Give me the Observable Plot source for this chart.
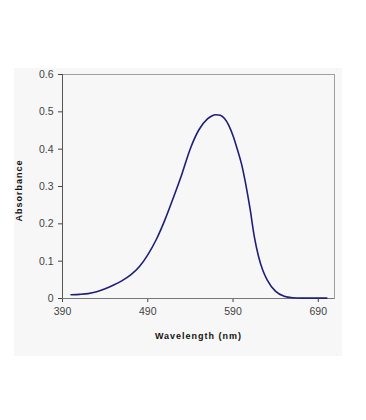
<!DOCTYPE html>
<html>
<head>
<meta charset="utf-8">
<script src="https://cdn.jsdelivr.net/npm/d3@7"></script>
<script src="https://cdn.jsdelivr.net/npm/@observablehq/plot@0.6"></script>
<style>
  html, body { margin: 0; padding: 0; background: #ffffff; }
  #wrap { position: relative; width: 366px; height: 420px; overflow: hidden; }
  #panel { position: absolute; left: 14px; top: 68px; width: 328px; height: 288px; background: #f7f7f7; }
  #chart { position: absolute; left: 0; top: 0; }
  #chart svg { background: transparent !important; }
</style>
</head>
<body>
<div id="wrap"><div id="panel"></div><div id="chart"></div></div>
<script>
const wavelength = [400, 410, 420, 430, 440, 450, 460, 470, 480, 490, 500, 510, 520, 530, 540, 550, 560, 565, 570, 575, 580, 585, 590, 595, 600, 605, 610, 615, 620, 625, 630, 640, 650, 660, 670, 680, 690, 700];
const absorbance = [0.010, 0.011, 0.013, 0.018, 0.026, 0.036, 0.048, 0.063, 0.085, 0.117, 0.158, 0.210, 0.270, 0.333, 0.402, 0.452, 0.481, 0.489, 0.492, 0.491, 0.482, 0.464, 0.436, 0.400, 0.360, 0.305, 0.240, 0.165, 0.112, 0.075, 0.050, 0.019, 0.006, 0.002, 0.001, 0.001, 0.001, 0.001];
const xTicks = [390, 490, 590, 690];
const yTicks = [0, 0.1, 0.2, 0.3, 0.4, 0.5, 0.6];
const xLabel = "Wavelength (nm)";
const yLabel = "Absorbance";

const data = wavelength.map((w, i) => ({w, a: absorbance[i]}));

const chart = Plot.plot({
  width: 366,
  height: 420,
  marginLeft: 62,
  marginRight: 32,
  marginTop: 74,
  marginBottom: 122,
  style: {fontFamily: "Liberation Sans, Arial, sans-serif", fontSize: "10.5px", background: "transparent", color: "#444"},
  x: {domain: [390, 709]},
  y: {domain: [0, 0.6]},
  marks: [
    Plot.frame({stroke: "#a0a0a0", strokeWidth: 1}),
    Plot.axisY({ticks: yTicks, tickSize: 4, tickPadding: 5, tickFormat: d => d === 0 ? "0" : d.toFixed(1), label: null, stroke: "#444", fill: "#444"}),
    Plot.axisX({ticks: xTicks, tickSize: 4, tickPadding: 5, tickFormat: d => String(d), label: null, stroke: "#444", fill: "#444"}),
    Plot.ruleX([390], {stroke: "#555"}),
    Plot.ruleY([0], {stroke: "#777"}),
    Plot.line(data, {x: "w", y: "a", stroke: "#1f1f78", strokeWidth: 1.6, curve: "monotone-x"}),
    Plot.text([yLabel], {frameAnchor: "left", dx: -43, dy: 4, rotate: -90, textAnchor: "middle", fontWeight: "bold", fontSize: 9, fill: "#111", text: d => d}),
    Plot.text([xLabel], {frameAnchor: "bottom", dy: 38, textAnchor: "middle", fontWeight: "bold", fontSize: 9, fill: "#111", text: d => d, lineAnchor: "middle"})
  ]
});
chart.querySelectorAll("text").forEach(t => {
  if (t.textContent === xLabel || t.textContent === yLabel) t.setAttribute("letter-spacing", "1");
});
document.getElementById("chart").appendChild(chart);
</script>
</body>
</html>
